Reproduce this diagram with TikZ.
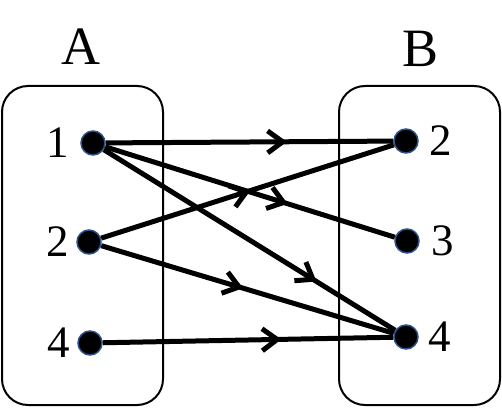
\documentclass[tikz,border=0pt]{standalone}
\usepackage{fontspec}
\setmainfont{Liberation Serif}
\usetikzlibrary{arrows.meta,decorations.markings}
\definecolor{dotblue}{RGB}{47,82,143}
\tikzset{
  setbox/.style={draw=black, line width=2pt, rounded corners=26pt},
  dot/.style={circle, fill=black, draw=dotblue, line width=1.5pt, minimum size=24pt, inner sep=0pt},
  num/.style={inner sep=0pt, font=\fontsize{45}{45}\selectfont},
  setname/.style={inner sep=0pt, font=\fontsize{54}{54}\selectfont},
  link/.style={line width=5pt, draw=black},
  midarr/.style={postaction={decorate}, decoration={markings,
     mark=at position #1 with {\arrow{Straight Barb[length=15pt,width=22pt,line width=5pt]}}}}
}
\begin{document}
\begin{tikzpicture}[x=1pt,y=-1pt]
\useasboundingbox (0,0) rectangle (502,417);
% boxes
\draw[setbox] (2,86) rectangle (163,405);
\draw[setbox] (339,86) rectangle (500,405);
% set names
\node[setname] (nA) at (81,47) {A};
\node[setname] (nB) at (420,49) {B};
% dots
\node[dot] (a1) at (93,143) {};
\node[dot] (a2) at (89,242) {};
\node[dot] (a4) at (90,343) {};
\node[dot] (b2) at (406,141) {};
\node[dot] (b3) at (407,241) {};
\node[dot] (b4) at (406,337) {};
% labels
\node[num, anchor=east] (la1) at (69,143) {1};
\node[num, anchor=east] (la2) at (69,242) {2};
\node[num, anchor=east] (la4) at (70,343) {4};
\node[num, anchor=west] (lb2) at (429,141) {2};
\node[num, anchor=west] (lb3) at (431,241) {3};
\node[num, anchor=west] (lb4) at (428,337) {4};
% links
\draw[link, midarr=0.63] (a1) -- (b2);
\draw[link, midarr=0.63] (a1) -- (b3);
\draw[link, midarr=0.73] (a1) -- (b4);
\draw[link, midarr=0.51] (a2) -- (b2);
\draw[link, midarr=0.485] (a2) -- (b4);
\draw[link, midarr=0.615] (a4) -- (b4);
\end{tikzpicture}
\end{document}
